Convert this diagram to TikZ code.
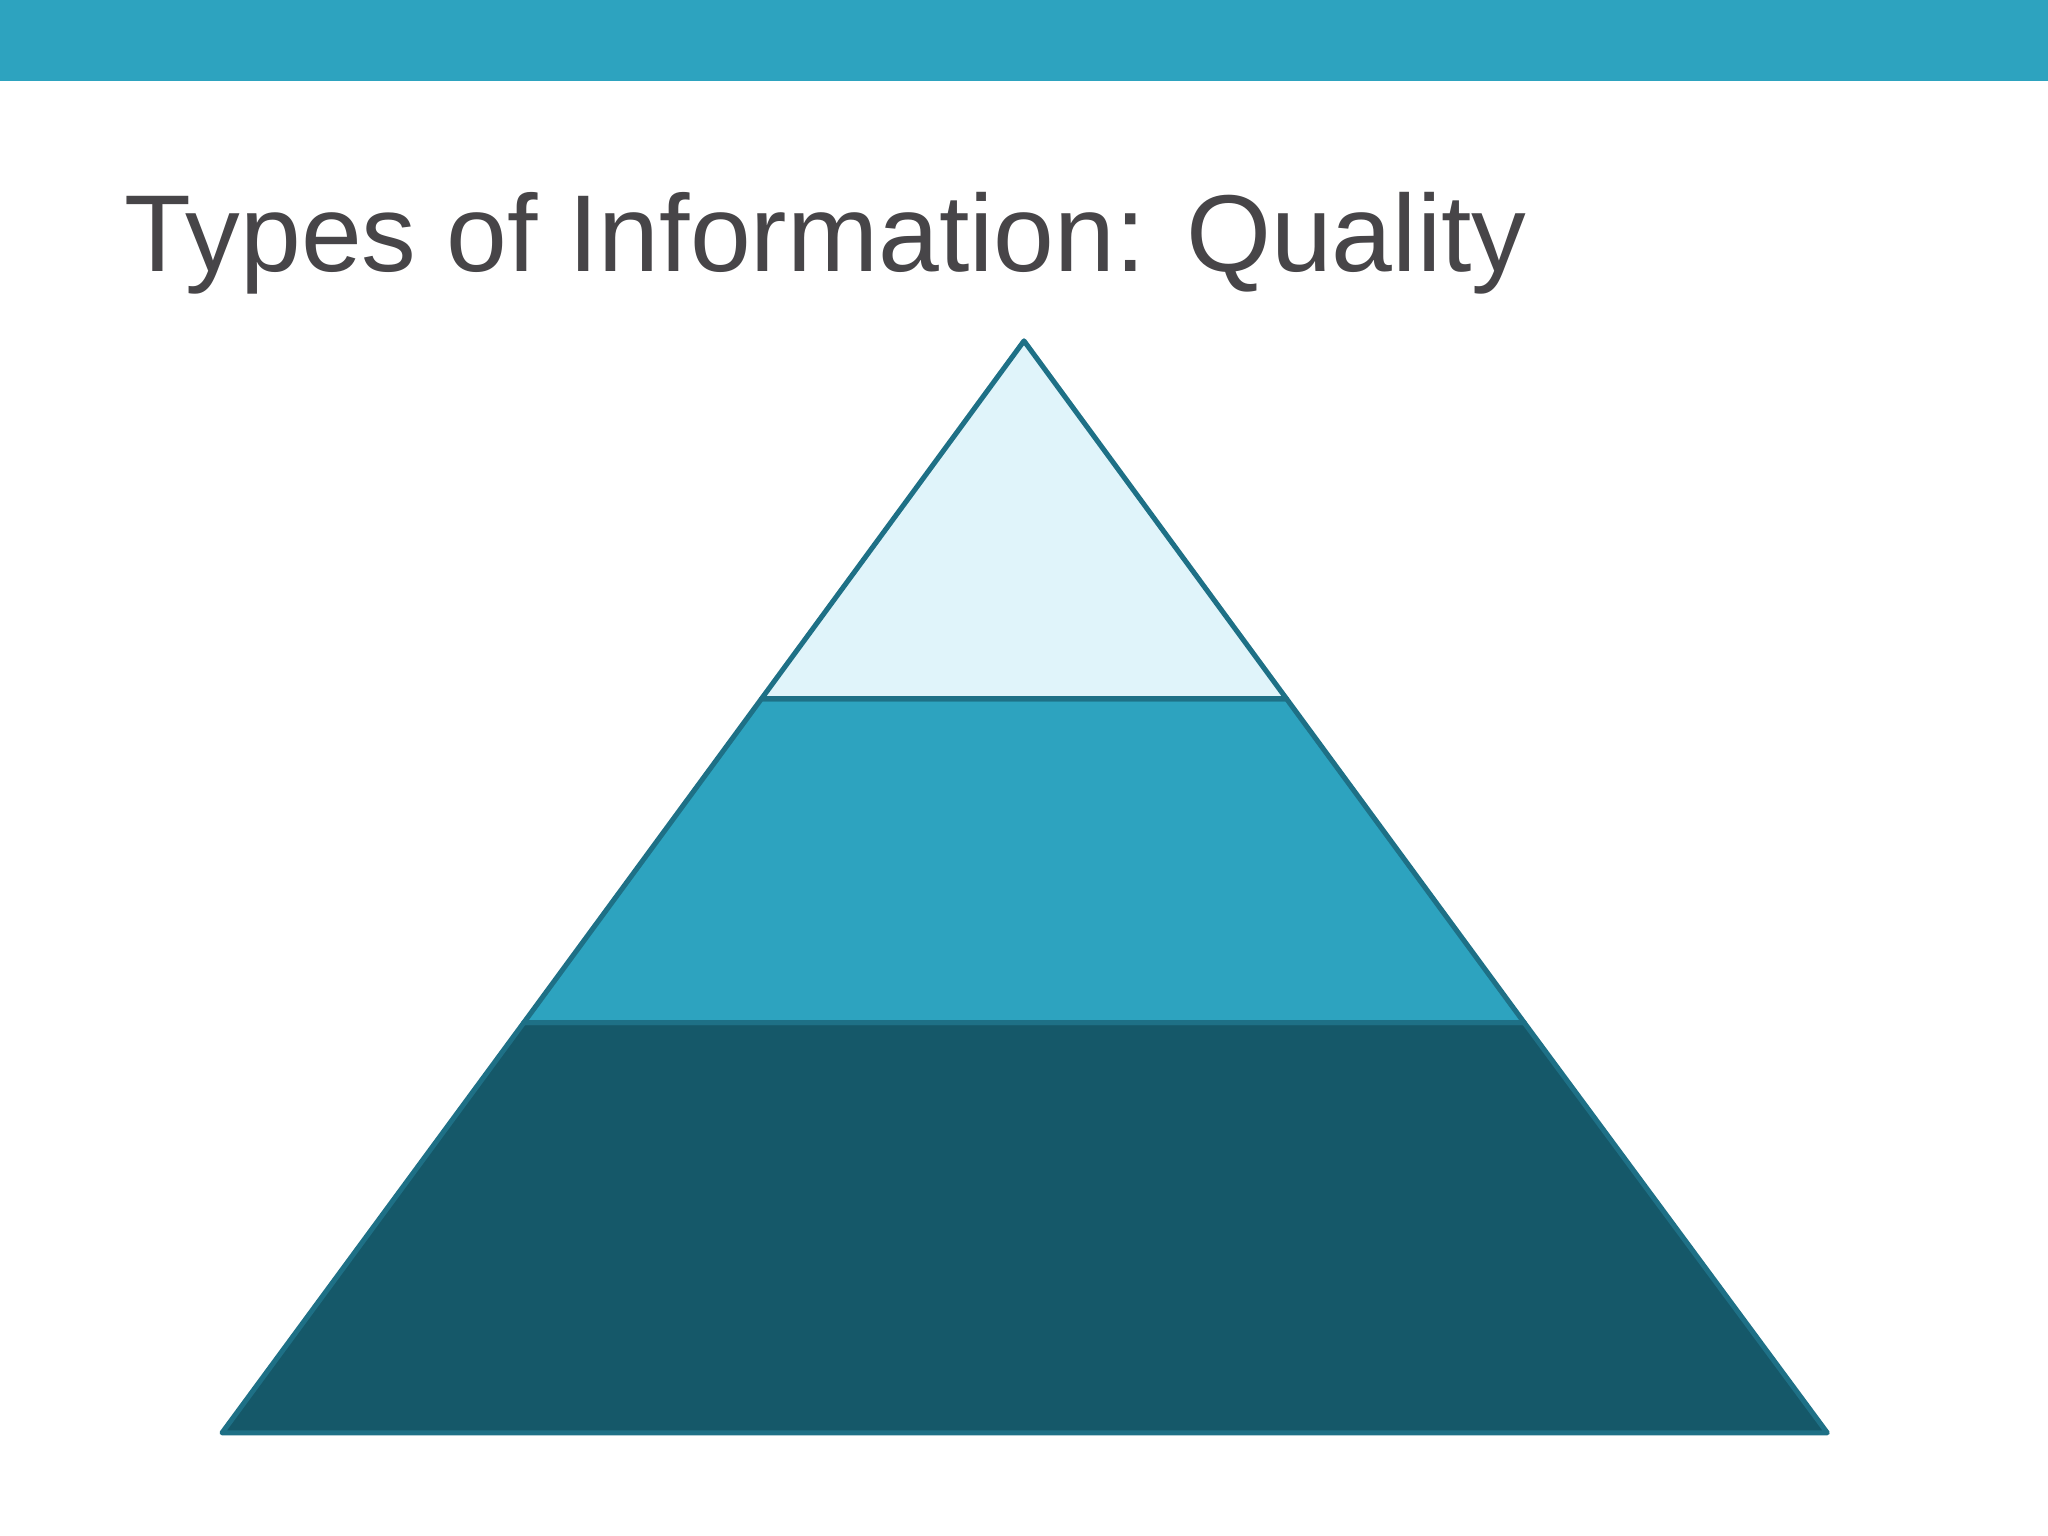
\documentclass[tikz,border=0pt]{standalone}
\usepackage{fontspec}
\setmainfont{Liberation Sans}
\definecolor{barc}{HTML}{2DA3BF}
\definecolor{topc}{HTML}{E0F4FA}
\definecolor{midc}{HTML}{2DA3BF}
\definecolor{botc}{HTML}{155869}
\definecolor{edgec}{HTML}{1E7086}
\definecolor{titlec}{HTML}{474548}
\begin{document}
\begin{tikzpicture}[x=0.01cm,y=-0.01cm,tier/.style={draw=edgec,line width=1.1pt,line join=round}]
\useasboundingbox (0,0) rectangle (1568,1176);
\fill[white] (0,0) rectangle (1568,1176);
\fill[barc] (0,0) rectangle (1568,62);
\node[anchor=base west,inner sep=0pt,text=titlec,font=\fontsize{23.8pt}{28pt}\selectfont] (title) at (95,208) {Types of Information: Quality};
\coordinate (apex) at (784,261);
\coordinate (bl) at (170,1097);
\coordinate (br) at (1399,1097);
\coordinate (l1) at (583,535);
\coordinate (r1) at (985,535);
\coordinate (l2) at (401,783);
\coordinate (r2) at (1167,783);
\filldraw[tier,fill=botc] (l2) -- (r2) -- (br) -- (bl) -- cycle;
\filldraw[tier,fill=midc] (l1) -- (r1) -- (r2) -- (l2) -- cycle;
\filldraw[tier,fill=topc] (apex) -- (r1) -- (l1) -- cycle;
\end{tikzpicture}
\end{document}
